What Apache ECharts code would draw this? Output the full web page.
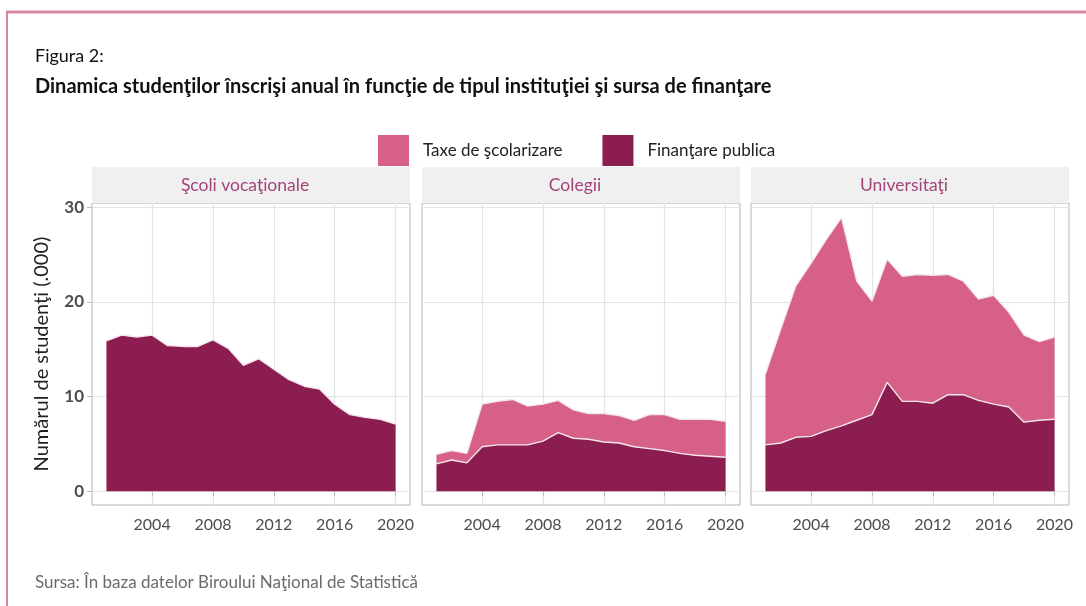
<!DOCTYPE html>
<html>
<head>
<meta charset="utf-8">
<script src="https://cdn.jsdelivr.net/npm/echarts@6/dist/echarts.min.js"></script>
<style>
  html, body { margin: 0; padding: 0; background: #fff; }
  #chart { width: 1086px; height: 606px; }
</style>
</head>
<body>
<div id="chart"></div>
<script>
// ani 2001 - 2020, mii de studenti
const years = [2001, 2002, 2003, 2004, 2005, 2006, 2007, 2008, 2009, 2010,
               2011, 2012, 2013, 2014, 2015, 2016, 2017, 2018, 2019, 2020];
const xTicks = [2004, 2008, 2012, 2016, 2020];
const yTicks = [0, 10, 20, 30];
const panels = ['Şcoli vocaţionale', 'Colegii', 'Universitaţi'];
const seriesNames = ['Taxe de şcolarizare', 'Finanţare publica'];

// Scoli vocationale - doar finantare publica
const vocPublic = [15.9, 16.5, 16.3, 16.5, 15.4, 15.3, 15.3, 16.0, 15.1, 13.3,
                   14.0, 12.9, 11.8, 11.1, 10.8, 9.2, 8.1, 7.8, 7.6, 7.1];

// Colegii
const colPublic = [2.9, 3.3, 3.0, 4.7, 4.9, 4.9, 4.9, 5.3, 6.2, 5.6,
                   5.5, 5.2, 5.1, 4.7, 4.5, 4.3, 4.0, 3.8, 3.7, 3.6];
const colTaxe = [1.0, 1.0, 1.0, 4.5, 4.6, 4.8, 4.1, 3.9, 3.4, 3.0,
                 2.7, 3.0, 2.9, 2.8, 3.6, 3.8, 3.6, 3.8, 3.9, 3.8];

// Universitati
const uniPublic = [4.9, 5.1, 5.7, 5.8, 6.4, 6.9, 7.5, 8.1, 11.5, 9.5,
                   9.5, 9.3, 10.2, 10.2, 9.6, 9.2, 8.9, 7.3, 7.5, 7.6];
const uniTaxe = [7.5, 12.0, 16.0, 18.3, 20.2, 22.0, 14.7, 12.0, 13.0, 13.2,
                 13.4, 13.5, 12.7, 12.0, 10.7, 11.5, 10.0, 9.2, 8.3, 8.7];

const FONT = "Lato, 'Open Sans', sans-serif";
const COL_TAXE = '#D66087';
const COL_PUBLIC = '#8B1D50';

// valoarea prima, anul al doilea -> stack se face pe y, nu pe x
const pairs = (vals) => years.map((y, i) => [vals[i], y]);

const gridLefts = [92, 422, 751];
const gridWidth = 318;
const gridTop = 203;
const gridHeight = 302;

const grids = gridLefts.map(l => ({
  left: l, top: gridTop, width: gridWidth, height: gridHeight,
  show: true, borderColor: '#B5B5B5', borderWidth: 1
}));

const xAxes = gridLefts.map((l, i) => ({
  type: 'value', gridIndex: i, min: 2000.05, max: 2020.95,
  axisLine: { show: false },
  axisTick: { show: true, customValues: xTicks, length: 5, lineStyle: { color: '#BDBDBD' } },
  axisLabel: { customValues: xTicks, color: '#4D4D4D', fontSize: 16, fontFamily: FONT, margin: 12,
    formatter: v => String(v) },
  splitLine: { show: true, lineStyle: { color: '#E3E3E3', width: 1.2 } }
}));

const yAxes = gridLefts.map((l, i) => ({
  type: 'value', gridIndex: i, min: -1.45, max: 30.45,
  name: i === 0 ? 'Numărul de studenţi (.000)' : '',
  nameLocation: 'middle', nameGap: 40, nameRotate: 90,
  nameTextStyle: { color: '#222', fontSize: 20, fontFamily: FONT },
  axisLine: { show: false },
  axisTick: { show: i === 0, customValues: yTicks, length: 5, lineStyle: { color: '#BDBDBD' } },
  axisLabel: { show: i === 0, customValues: yTicks, color: '#4D4D4D', fontSize: 17,
    fontWeight: 'bold', fontFamily: FONT, margin: 8 },
  splitLine: { show: true, lineStyle: { color: '#E3E3E3', width: 1.2 } }
}));

function area(name, gi, vals, color) {
  return {
    name, type: 'line', xAxisIndex: gi, yAxisIndex: gi, stack: 'p' + gi,
    data: pairs(vals), encode: { x: 1, y: 0 },
    showSymbol: false, symbol: 'none',
    itemStyle: { color },
    lineStyle: { color: '#F2E6EB', width: 1.4 },
    areaStyle: { color, opacity: 1 },
    emphasis: { disabled: true }
  };
}

const series = [
  area(seriesNames[1], 0, vocPublic, COL_PUBLIC),
  area(seriesNames[1], 1, colPublic, COL_PUBLIC),
  area(seriesNames[0], 1, colTaxe, COL_TAXE),
  area(seriesNames[1], 2, uniPublic, COL_PUBLIC),
  area(seriesNames[0], 2, uniTaxe, COL_TAXE)
];

const strips = [];
gridLefts.forEach((l, i) => {
  strips.push({
    type: 'rect', shape: { x: l, y: 167, width: gridWidth, height: 36 },
    style: { fill: '#F0F0F0' }, silent: true
  });
  strips.push({
    type: 'text', x: l + gridWidth / 2 - 6, y: 185,
    style: { text: panels[i], fill: '#A3457A', font: '17.5px ' + FONT,
      textAlign: 'center', textVerticalAlign: 'middle' }
  });
});

const chart = echarts.init(document.getElementById('chart'));
chart.setOption({
  backgroundColor: '#fff',
  animation: false,
  title: [
    { text: 'Figura 2:', left: 30, top: 42,
      textStyle: { fontFamily: FONT, fontSize: 18, fontWeight: 'normal', color: '#111' } },
    { text: 'Dinamica studenţilor înscrişi anual în funcţie de tipul instituţiei şi sursa de finanţare',
      left: 30, top: 72,
      textStyle: { fontFamily: FONT, fontSize: 20, fontWeight: 'bold', color: '#111' } },
    { text: 'Sursa: În baza datelor Biroului Naţional de Statistică', left: 30, top: 569,
      textStyle: { fontFamily: FONT, fontSize: 17, fontWeight: 'normal', color: '#6B6B6B' } }
  ],
  legend: {
    data: seriesNames, left: 373, top: 130, icon: 'rect',
    itemWidth: 31, itemHeight: 31, itemGap: 40,
    itemStyle: { borderWidth: 0 },
    textStyle: { fontFamily: FONT, fontSize: 17, color: '#222', padding: [0, 0, 0, 9] }
  },
  grid: grids,
  xAxis: xAxes,
  yAxis: yAxes,
  series,
  graphic: [
    { type: 'line', shape: { x1: 6, y1: 12, x2: 1086, y2: 12 },
      style: { stroke: '#D886A6', lineWidth: 3 }, silent: true },
    { type: 'line', shape: { x1: 7, y1: 11, x2: 7, y2: 606 },
      style: { stroke: '#D886A6', lineWidth: 2 }, silent: true }
  ].concat(strips)
});
</script>
</body>
</html>
